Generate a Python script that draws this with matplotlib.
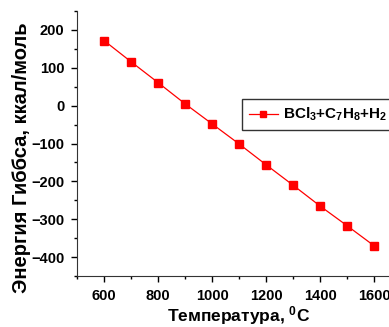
import matplotlib
matplotlib.use('Agg')
from matplotlib import pyplot as plt
from matplotlib.ticker import MultipleLocator

plt.rcParams['font.family'] = ['Liberation Sans', 'DejaVu Sans']
plt.rcParams['font.weight'] = 'bold'
plt.rcParams['mathtext.fontset'] = 'custom'
plt.rcParams['mathtext.rm'] = 'Liberation Sans:bold'
plt.rcParams['mathtext.bf'] = 'Liberation Sans:bold'
plt.rcParams['mathtext.default'] = 'bf'

temp_x = [600, 700, 800, 900, 1000, 1100, 1200, 1300, 1400, 1500, 1600]
gibbs_y = [172, 116, 61, 5, -48, -101, -156, -210, -265, -317, -370]

fig = plt.figure(figsize=(3.89, 3.27), dpi=100)
# axes run past the right edge, like the cropped original
ax = fig.add_axes([77/389, 1 - 276/327, (401 - 77)/389, (276 - 11)/327])

ax.plot(temp_x, gibbs_y, color='red', linewidth=0.9, marker='s', markersize=5.5,
        label=r'BCl$_3$+C$_7$H$_8$+H$_2$')

ax.set_xlim(500, 1700)
ax.set_ylim(-450, 250)
ax.xaxis.set_minor_locator(MultipleLocator(100))
ax.yaxis.set_major_locator(MultipleLocator(100))
ax.yaxis.set_minor_locator(MultipleLocator(50))
ax.set_xticks([600, 800, 1000, 1200, 1400, 1600])
ax.tick_params(which='major', length=4, width=1, labelsize=10.5, pad=5)
ax.tick_params(which='minor', length=2.5, width=1)

for s in ['top', 'right']:
    ax.spines[s].set_visible(False)
for s in ['left', 'bottom']:
    ax.spines[s].set_color('#333333')

ax.set_xlabel('Температура, $^0$C', fontsize=12.5, fontweight='bold', labelpad=1)
ax.set_ylabel('Энергия Гиббса, ккал/моль', fontsize=14.5, fontweight='bold')
ax.yaxis.set_label_coords(-0.142, 0.445)

leg = ax.legend(loc='upper left', bbox_to_anchor=((242 - 77)/324, 1 - (99 - 11)/265),
                fontsize=11, frameon=True, fancybox=False, borderaxespad=0,
                handlelength=1.9, handletextpad=0.35, markerscale=0.75, borderpad=0.45)
leg.get_frame().set_edgecolor('black')
leg.get_frame().set_linewidth(1)

fig.savefig('out.png', dpi=100)
